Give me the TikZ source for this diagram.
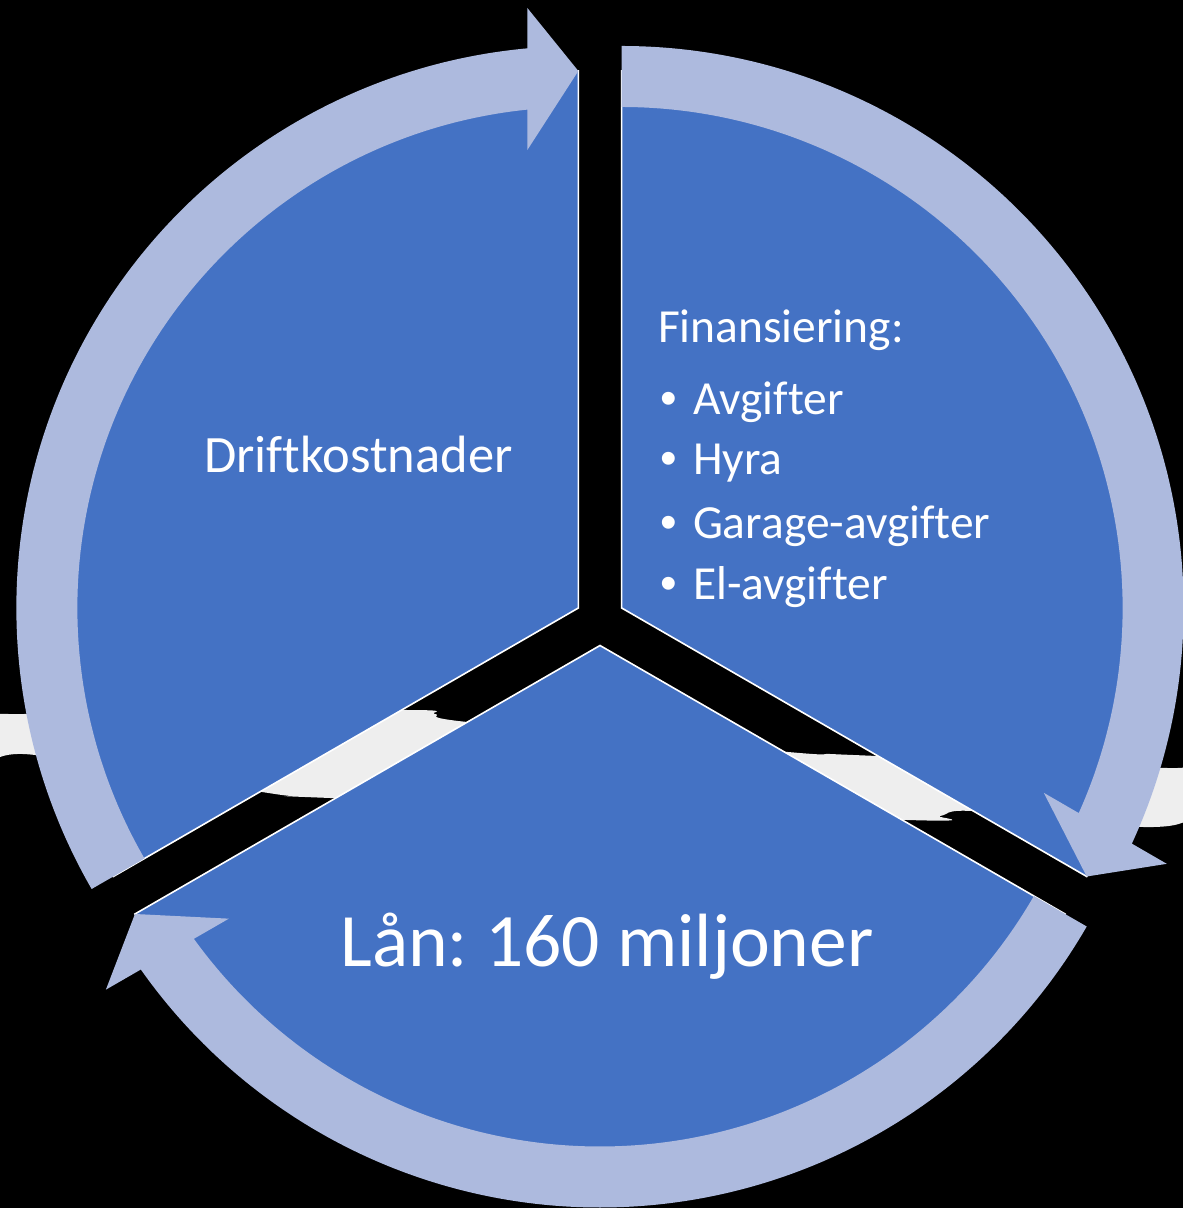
\documentclass[tikz,border=0pt]{standalone}
\usepackage{fontspec}
\setmainfont{Carlito}[Ligatures={NoCommon}]
\newfontfamily\bulletfont{Liberation Sans}
\definecolor{segblue}{HTML}{4472C4}
\definecolor{ringblue}{HTML}{ADBADE}
\definecolor{roadgray}{HTML}{EEEEEE}
\frenchspacing
\begin{document}
\begin{tikzpicture}[x=1pt,y=1pt,
  seg/.style={fill=segblue, draw=white, line width=1.6pt, line join=miter},
  lbl/.style={text=white, inner sep=0pt, outer sep=0pt},
  midfont/.style={font=\fontsize{47.5}{57}\selectfont},
  bul/.style={lbl, font=\bulletfont\fontsize{47.5}{57}\selectfont, anchor=base},
  item/.style={lbl, midfont, anchor=base west},
  cyclearrow/.pic={
    \fill[ringblue] (210:501) -- (210:562)
      arc[start angle=210, end angle=95.21, radius=562]
      -- (-51,600) -- (0,537) -- (-51,458) -- (95.84:501)
      arc[start angle=95.84, end angle=210, radius=501] -- cycle;
  },
]
\useasboundingbox (0,0) rectangle (1183,1208);
\fill[black] (0,0) rectangle (1183,1208);
% light textured band behind the cycle
\fill[roadgray] plot[smooth cycle, tension=0.5] coordinates {
  (-10,493) (25,494) (403,498) (435,494) (467,486) (788,456) (830,454)
  (877,452) (1167,440) (1193,444)
  (1193,393) (1143,381) (972,397) (940,392) (907,388) (330,410) (296,412)
  (262,416) (35,453) (-10,450)};
% segment apexes
\coordinate (L) at (578.35,600);
\coordinate (R) at (621.65,600);
\coordinate (B) at (600,562.5);
% pie segments
\draw[seg] (L) -- ++(90:537) arc[start angle=90, end angle=210, radius=537] -- cycle;
\draw[seg] (R) -- ++(-30:537) arc[start angle=-30, end angle=90, radius=537] -- cycle;
\draw[seg] (B) -- ++(210:537) arc[start angle=210, end angle=330, radius=537] -- cycle;
% circular arrows
\pic at (L) {cyclearrow};
\pic[rotate=-120] at (R) {cyclearrow};
\pic[rotate=120] at (B) {cyclearrow};
% texts
\node[lbl, font=\fontsize{52.5}{63}\selectfont, anchor=base] (drift) at (358.5,735) {Driftkostnader};
\node[lbl, midfont, anchor=base west] (fin) at (658,865) {Finansiering:};
\node[bul] (b1) at (669,793) {•};
\node[item] (i1) at (693,793) {Avgifter};
\node[bul] (b2) at (669,733) {•};
\node[item] (i2) at (693,733) {Hyra};
\node[bul] (b3) at (669,669) {•};
\node[item] (i3) at (693,669) {Garage-avgifter};
\node[bul] (b4) at (669,608) {•};
\node[item] (i4) at (693,608) {El-avgifter};
\node[lbl, font=\fontsize{75.5}{90}\selectfont, anchor=base] (lan) at (607,241) {Lån: 160 miljoner};
\end{tikzpicture}
\end{document}
